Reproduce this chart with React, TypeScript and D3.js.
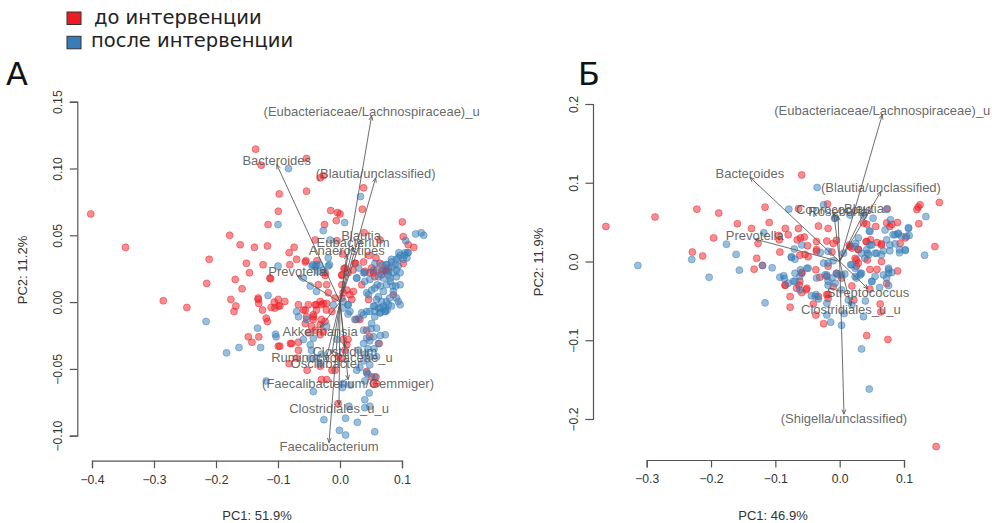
import { useEffect, useRef } from "react";
import * as d3 from "d3";

type Pt = [number, number];

const legendLabels = ["до интервенции", "после интервенции"];
const groupColors = ["#ed1c24", "#377eb8"];

// panel A: [PC1, PC2]
const beforeA: Pt[] = [
  [-0.402,0.066],[-0.346,0.041],[-0.136,0.1145],[-0.127,0.1025],[-0.098,0.081],[-0.0995,0.068],[-0.116,0.058],[-0.178,0.05],
  [-0.161,0.043],[-0.138,0.041],[-0.117,0.042],[-0.211,0.032],[-0.151,0.029],[-0.124,0.028],[-0.146,0.022],[-0.169,0.017],
  [-0.113,0.018],[-0.285,0.001],[-0.247,-0.004],[-0.215,0.014],[-0.158,0.01],[-0.176,0.002],[-0.168,-0.003],[-0.171,-0.007],
  [-0.132,0.003],[-0.132,0.002],[-0.131,-0.001],[-0.125,-0.006],[-0.111,-0.004],[-0.106,0],[-0.0995,0.002],[-0.0995,-0.003],
  [-0.119,-0.012],[-0.117,-0.0145],[-0.148,-0.026],[-0.131,-0.026],[-0.142,-0.03],[-0.0995,-0.033],[-0.054,0.1075],[-0.032,0.093],
  [-0.027,0.0945],[-0.054,0.083],[0.038,0.0855],[0.036,0.0695],[-0.015,0.0685],[-0.004,0.067],[0,0.066],[-0.006,0.061],
  [-0.025,0.058],[0.1005,0.06],[0.102,0.049],[0.11,0.043],[0.119,0.041],[0.039,0.052],[0.0645,0.0465],[-0.04,0.0465],
  [-0.005,0.046],[-0.074,0.041],[-0.082,0.037],[-0.07,0.032],[-0.055,0.031],[-0.037,0.031],[-0.081,0.028],[0.004,0.036],
  [0.047,0.035],[0.058,0.033],[0.038,0.03],[0.0645,0.029],[0.102,0.029],[0.025,0.029],[0.021,0.024],[0.0065,0.025],
  [0.003,0.02],[-0.024,0.02],[0.073,0.024],[0.054,0.022],[0.059,0.024],[0.07,0.024],[0.078,0.0255],[0.067,0.0205],
  [0.056,0.019],[0.048,0.022],[0.04,0.023],[0.024,0.029],[0.008,0.0255],[0.003,0.0205],[0.013,0.022],[0.003,0.013],
  [0.011,0.009],[0.0215,0.008],[0.016,0.0055],[0.003,0.003],[0.019,0.002],[0.046,0.002],[0.086,0.0055],[-0.024,0.022],
  [-0.0215,0.013],[-0.019,0.007],[-0.035,0.013],[-0.056,0.03],[-0.032,0.0005],[-0.027,-0.001],[-0.04,-0.002],[-0.051,-0.002],
  [-0.038,-0.006],[-0.022,-0.006],[-0.043,-0.011],[-0.056,-0.006],[-0.008,0.003],[0.075,0.023],[0.051,0.0255],[0.035,0.013],
  [0.005,0.007],[-0.105,-0.0045],[-0.097,-0.003],[-0.089,0.0005],[-0.067,-0.002],[-0.059,-0.006],[-0.054,-0.011],[-0.043,-0.0095],
  [-0.038,-0.002],[-0.03,-0.002],[-0.0215,-0.001],[-0.013,-0.007],[-0.03,-0.013],[-0.043,-0.013],[-0.046,-0.018],[-0.032,-0.017],
  [-0.024,-0.0145],[-0.056,-0.016],[-0.04,-0.021],[-0.027,-0.022],[-0.032,-0.0245],[-0.051,-0.023],[-0.067,-0.03],[-0.078,-0.031],
  [-0.097,-0.033],[-0.067,-0.036],[0.013,-0.028],[0.011,-0.032],[0.005,-0.028],[0.043,-0.021],[0.063,-0.031],[0.043,-0.052],
  [0.051,-0.056],[0.059,-0.061],[-0.013,-0.051],[-0.053,-0.051],[-0.032,-0.048],[-0.07,-0.042],[-0.008,-0.051],[0.003,-0.042],
  [0.048,-0.026],[0.032,-0.013],[0.026,-0.013],[0.008,-0.036],[-0.003,-0.041],[-0.03,-0.058],[-0.0215,-0.058],[0.054,-0.061],
  [0.058,-0.056],[-0.003,-0.076],[-0.082,-0.046],[-0.08,-0.031],[-0.112,0.0175],
];

const afterA: Pt[] = [
  [-0.1,0.058],[-0.1,0.027],[-0.116,0.005],[-0.216,-0.0145],[-0.133,-0.0195],[-0.104,-0.024],[-0.103,-0.026],[-0.163,-0.034],
  [-0.128,-0.034],[-0.183,-0.038],[-0.119,-0.059],[-0.083,0.1],[0.033,0.079],[0.0075,0.0595],[-0.027,0.0535],[-0.016,0.0465],
  [0.122,0.051],[0.131,0.052],[0.135,0.05],[0.106,0.046],[-0.019,0.033],[-0.017,0.028],[-0.045,0.027],[-0.04,0.0265],
  [-0.033,0.028],[-0.027,0.024],[0.095,0.037],[0.109,0.037],[0.104,0.035],[0.094,0.033],[0.083,0.032],[0.108,0.033],
  [0.083,0.0265],[0.075,0.028],[0.089,0.028],[0.067,0.023],[0.078,0.023],[0.097,0.022],[0.091,0.019],[0.081,0.018],
  [0.0565,0.029],[0.054,0.024],[0.04,0.022],[0.027,0.018],[0.059,0.002],[0.067,0.0005],[0.075,0.0005],[0.056,-0.003],
  [0.065,-0.0045],[0.073,-0.0045],[0.078,-0.002],[0.056,-0.007],[0.065,-0.008],[0.073,-0.007],[0.076,-0.006],[0.091,0.003],
  [0.094,0.0005],[0.097,-0.002],[0.043,0.007],[0.051,0.009],[0.046,0.0055],[0.086,0.008],[0.065,0.012],[0.056,0.0105],
  [0.075,0.013],[0.081,0.0155],[0.07,0.018],[0.078,0.0205],[0.086,0.022],[0.091,0.024],[0.097,0.013],[0.048,0.017],
  [0.04,0.0155],[0.027,0.018],[0.038,0.022],[0.062,0.019],[0.03,0.0255],[0.075,0.028],[0.083,0.03],[0.091,0.032],
  [0.097,0.035],[0.105,0.037],[0.11,0.037],[0.102,0.032],[0.094,0.027],[0.035,-0.008],[0.043,-0.007],[0.016,-0.007],
  [0.013,-0.002],[0.005,0.0005],[-0.011,-0.002],[-0.019,0.027],[-0.038,0.028],[-0.044,0.028],[-0.035,0.023],[-0.048,0.012],
  [-0.038,0.008],[-0.059,0.018],[0.07,-0.003],[0.062,-0.0045],[0.054,-0.003],[0.073,-0.007],[0.0645,-0.008],[0.056,-0.011],
  [0.048,-0.007],[0.038,-0.0095],[0.03,-0.012],[0.024,-0.013],[0.051,-0.016],[0.059,-0.0195],[0.073,-0.0245],[0.038,-0.021],
  [0.043,-0.027],[0.048,-0.029],[0.054,-0.026],[0.062,-0.031],[0.038,-0.031],[0.03,-0.036],[0.04,-0.039],[0.048,-0.041],
  [0.059,-0.041],[0.048,-0.047],[0.032,-0.049],[0.027,-0.051],[0.038,-0.044],[0.013,-0.002],[0.005,-0.0045],[0.013,-0.009],
  [-0.07,-0.007],[-0.067,-0.011],[-0.054,-0.013],[-0.059,-0.028],[-0.043,-0.027],[-0.048,-0.032],[-0.046,-0.036],[-0.0215,-0.018],
  [-0.005,-0.028],[-0.03,-0.039],[-0.032,-0.046],[0.056,-0.056],[0.043,-0.053],[0.005,-0.061],[0.04,-0.059],[-0.048,-0.042],
  [-0.038,-0.042],[-0.043,-0.067],[0.004,-0.064],[0.017,-0.062],[0.047,-0.068],[0.04,-0.073],[0.04,-0.079],[0.048,-0.078],
  [0.0145,-0.078],[-0.026,-0.088],[0.009,-0.087],[0.028,-0.09],[-0.001,-0.096],[0.009,-0.0995],[0.056,-0.097],[0.045,-0.054],
  [0.085,0.012],[0.07,0.008],[0.062,0.004],[0.08,0.003],[0.083,-0.003],[0.068,0.028],[0.06,0.013],[0.09,0.012],
  [0.05,-0.02],[0.045,-0.035],[0.055,-0.035],[0.065,-0.025],
];

const arrowNamesA = [
  "(Eubacteriaceae/Lachnospiraceae)_u", "(Blautia/unclassified)", "Bacteroides", "Blautia", "Eubacterium", "Anaerostipes", "Prevotella",
  "Akkermansia", "Ruminococcaceae_u", "Clostridium", "Oscillibacter", "(Faecalibacterium/Gemmiger)", "Clostridiales_u_u", "Faecalibacterium",
];
const arrowTipsA: Pt[] = [
  [0.051,0.1395],[0.0575,0.093],[-0.102,0.103],[0.034,0.0466],[0.021,0.0414],[0.011,0.0354],[-0.069,0.0197],
  [-0.032,-0.019],[-0.013,-0.0387],[0.008,-0.034],[-0.0226,-0.0432],[0.013,-0.058],[-0.0016,-0.0769],[-0.0177,-0.1052],
];

// panel B
const beforeB: Pt[] = [
  [-0.3635,0.0445],[-0.287,0.0565],[-0.222,0.0665],[-0.188,0.0615],[-0.116,0.069],[-0.159,0.048],[-0.137,0.042],[-0.1095,0.0495],
  [-0.0845,0.042],[-0.08,0.034],[-0.196,0.03],[-0.095,0.033],[-0.094,0.0275],[-0.127,0.023],[-0.093,0.012],[-0.229,0.012],
  [-0.213,0.007],[-0.129,0.004],[-0.133,-0.0097],[-0.12,-0.005],[-0.0845,-0.03],[-0.077,-0.0445],[-0.077,-0.058],[-0.059,0.11],
  [-0.019,0.073],[-0.064,0.067],[0.074,0.067],[0.155,0.075],[0.125,0.072],[0.122,0.069],[0.12,0.066],[0.123,0.048],
  [0.037,0.049],[0.042,0.0475],[0.056,0.0445],[0.073,0.049],[0.078,0.0445],[0.081,0.047],[0.09,0.0495],[-0.033,0.045],
  [-0.018,0.042],[-0.064,0.042],[-0.055,0.031],[-0.061,0.03],[-0.066,0.0275],[-0.02,0.026],[-0.01,0.023],[-0.005,0.027],
  [-0.036,0.0255],[-0.05,0.02],[-0.036,0.015],[-0.012,0.012],[-0.062,0.008],[-0.054,0.009],[0.015,0.021],[0.019,0.017],
  [0.029,0.0155],[0.041,0.0255],[0.048,0.0275],[0.058,0.024],[0.065,0.0225],[0.102,0.03],[0.148,0.019],[0.094,0.023],
  [0.047,-0.01],[0.058,-0.01],[0.065,0],[0.09,-0.012],[-0.059,-0.014],[-0.037,-0.0105],[0.024,0.004],[0.029,-0.002],
  [0.043,0.002],[0.026,-0.006],[-0.018,-0.006],[-0.085,-0.03],[-0.063,-0.03],[-0.059,-0.0395],[-0.052,-0.036],[-0.018,-0.042],
  [-0.018,-0.047],[-0.041,-0.054],[-0.037,-0.068],[-0.025,-0.079],[0.063,-0.054],[0.064,-0.064],[0.042,-0.094],[0.075,-0.099],
  [0.15,-0.235],[0.022,-0.049],[0.019,-0.031],[-0.031,-0.02],[-0.005,-0.015],[0.047,-0.035],[0.073,-0.028],
  [-0.059,-0.015],[-0.062,-0.025],[-0.051,-0.034],[-0.067,-0.034],[-0.02,-0.019],[-0.01,-0.032],[-0.033,-0.0445],[-0.02,-0.042],
  [0.026,0.002],[0.003,-0.021],[0.016,0.019],[0.029,0.015],[0.042,0.025],[0.065,0.021],[-0.049,0.006],[-0.036,0.013],
];

const afterB: Pt[] = [
  [-0.3137,-0.005],[-0.23,0.0025],[-0.176,0.022],[-0.161,0.009],[-0.118,0.0365],[-0.079,0.0665],[-0.075,0.005],[-0.156,-0.011],
  [-0.203,-0.02],[-0.12,-0.005],[-0.105,-0.008],[-0.093,-0.02],[-0.086,-0.0215],[-0.116,-0.0525],[-0.08,-0.0275],[-0.035,0.094],
  [-0.025,0.072],[-0.008,0.055],[0.016,0.059],[0.037,0.058],[0.052,0.055],[0.073,0.066],[0.134,0.057],[0.079,0.053],
  [0.107,0.043],[0.046,0.039],[0.0705,0.04],[0.086,0.034],[0.091,0.035],[0.096,0.032],[0.104,0.032],[0.108,0.033],
  [0.132,0.008],[0.102,0.014],[0.093,0.011],[0.093,0.015],[0.086,0.0225],[0.073,0.0275],[0.078,0.021],[0.078,0.0135],
  [0.068,0.0135],[0.029,0.03],[0.025,0.023],[0.024,0.019],[0.05,0.021],[0.055,0.0105],[0.043,0.0105],[0.039,0.004],
  [0.034,0.0105],[-0.059,0.021],[-0.03,0.0115],[-0.018,0.013],[0.006,0.0105],[-0.0705,0.016],[-0.075,0.006],[-0.0695,0.003],
  [-0.025,-0.002],[-0.018,-0.002],[-0.01,0.001],[-0.049,-0.0085],[-0.061,-0.0105],[-0.0695,-0.015],[-0.087,-0.018],[-0.023,-0.017],
  [-0.005,-0.015],[0.008,-0.016],[0.032,-0.015],[0.024,-0.019],[0.076,-0.0105],[0.081,-0.014],[0.017,-0.004],[-0.0695,-0.025],
  [-0.062,-0.036],[-0.044,-0.0435],[-0.037,-0.042],[-0.033,-0.0475],[-0.02,-0.053],[-0.02,-0.068],[-0.014,-0.077],[0.003,-0.081],
  [0.037,-0.07],[0.04,-0.05],[0.034,-0.111],[0.046,-0.162],[0.062,-0.033],[0.05,-0.0255],[0.076,-0.0305],[0.003,-0.036],
  [0.0135,-0.049],[0.019,-0.055],[0.007,-0.066],[-0.02,-0.017],[-0.018,-0.025],[-0.007,-0.0275],[0.003,-0.017],[0.032,-0.017],
  [0.055,-0.019],[0.076,-0.015],[-0.062,-0.019],[-0.072,-0.025],[-0.051,-0.0085],[-0.036,-0.021],[-0.012,-0.021],[-0.002,-0.017],
  [0.019,-0.004],[0.024,-0.0085],[0.034,-0.015],[0.026,-0.021],[0.05,-0.025],[0.068,-0.017],[0.076,-0.0085],[0.073,-0.021],
  [-0.038,-0.0445],[-0.018,-0.03],[0.047,0.021],[0.042,0.015],[0.045,0.0085],[0.0575,0.0105],[0.065,0.0085],[0.102,0.015],
  [0.091,0.036],[0.083,0.034],[0.107,0.042],[-0.007,0.055],[0.047,0.038],
];

const arrowNamesB = [
  "(Eubacteriaceae/Lachnospiraceae)_u", "(Blautia/unclassified)", "Bacteroides", "Prevotella", "Coprococcus", "Roseburia", "Blautia",
  "Streptococcus", "Clostridiales_u_u", "(Shigella/unclassified)",
];
const arrowTipsB: Pt[] = [
  [0.0663,0.1866],[0.0642,0.089],[-0.1395,0.107],[-0.132,0.0285],[-0.009,0.0607],[-0.0026,0.058],[0.0378,0.062],
  [0.044,-0.0347],[0.0174,-0.0564],[0.0067,-0.1938],
];

const ticksXA = [-0.4, -0.3, -0.2, -0.1, 0, 0.1];
const ticksYA = [-0.1, -0.05, 0, 0.05, 0.1, 0.15];
const ticksXB = [-0.3, -0.2, -0.1, 0, 0.1];
const ticksYB = [-0.2, -0.1, 0, 0.1, 0.2];

const chartFont = "'Liberation Sans', Arial, sans-serif";
const labelFont = "'DejaVu Sans', sans-serif";
const inkColor = "#555";

function drawPanel(svg: any, p: any) {
  const x = d3.scaleLinear().domain(d3.extent(p.ticksX) as any).range(p.rangeX);
  const y = d3.scaleLinear().domain(d3.extent(p.ticksY) as any).range(p.rangeY);

  const dots = svg.append("g");
  [p.before, p.after].forEach((pts: Pt[], i: number) => {
    dots.append("g")
      .selectAll("circle")
      .data(pts)
      .join("circle")
      .attr("cx", (d: Pt) => x(d[0]))
      .attr("cy", (d: Pt) => y(d[1]))
      .attr("r", 3.5)
      .attr("fill", groupColors[i])
      .attr("fill-opacity", 0.5)
      .attr("stroke", groupColors[i])
      .attr("stroke-opacity", 0.45)
      .attr("stroke-width", 1);
  });

  const arrows = svg.append("g").attr("fill", "none").attr("stroke", "#555").attr("stroke-width", 1).attr("stroke-opacity", 0.85);
  p.tips.forEach((t: Pt) => {
    const x0 = x(0), y0 = y(0), x1 = x(t[0]), y1 = y(t[1]);
    const a = Math.atan2(y1 - y0, x1 - x0);
    const head = 5;
    arrows.append("path").attr("d", d3.line()([[x0, y0], [x1, y1]]));
    arrows.append("path").attr("d", d3.line()([
      [x1 - head * Math.cos(a - 0.4), y1 - head * Math.sin(a - 0.4)],
      [x1, y1],
      [x1 - head * Math.cos(a + 0.4), y1 - head * Math.sin(a + 0.4)],
    ]));
  });

  svg.append("g")
    .selectAll("text")
    .data(p.names)
    .join("text")
    .attr("x", (_: string, i: number) => x(p.tips[i][0]))
    .attr("y", (_: string, i: number) => y(p.tips[i][1]) + (p.tips[i][1] > 0 ? -4 : 4))
    .attr("dy", "0.35em")
    .attr("text-anchor", "middle")
    .attr("font-family", chartFont)
    .attr("font-size", 13)
    .attr("fill", "#555")
    .attr("fill-opacity", 0.9)
    .text((d: string) => d);

  const axisX = svg.append("g")
    .attr("transform", `translate(0,${p.axisY})`)
    .call(d3.axisBottom(x).tickValues(p.ticksX).tickSizeOuter(0).tickSize(7.5).tickPadding(7).tickFormat(d3.format(".1f") as any));
  const axisY = svg.append("g")
    .attr("transform", `translate(${p.axisX},0)`)
    .call(d3.axisLeft(y).tickValues(p.ticksY).tickSizeOuter(0).tickSize(7.5).tickFormat(d3.format(p.yFormat) as any));

  axisY.selectAll("text")
    .attr("transform", "rotate(-90)")
    .attr("x", 0)
    .attr("y", -15)
    .attr("dy", 0)
    .attr("text-anchor", "middle");
  [axisX, axisY].forEach((ax: any) => {
    ax.attr("font-family", chartFont).attr("font-size", 12.2);
    ax.selectAll("path,line").attr("stroke", inkColor).attr("stroke-width", 1.2);
    ax.selectAll("text").attr("fill", "#333");
  });

  svg.append("text")
    .attr("x", p.titleX).attr("y", 519.5)
    .attr("text-anchor", "middle").attr("font-family", chartFont).attr("font-size", 13).attr("fill", "#333")
    .text(p.xTitle);
  svg.append("text")
    .attr("transform", `translate(${p.titleYX},${p.titleYY}) rotate(-90)`)
    .attr("text-anchor", "middle").attr("font-family", chartFont).attr("font-size", 13).attr("fill", "#333")
    .text(p.yTitle);

  svg.append("text")
    .attr("x", p.letterX).attr("y", 85)
    .attr("font-family", labelFont).attr("font-size", 32).attr("fill", "#111")
    .text(p.letter);
}

export default function App() {
  const ref = useRef<SVGSVGElement>(null);

  useEffect(() => {
    const svg = d3.select(ref.current);
    svg.selectAll("*").remove();

    const legend = svg.append("g");
    legendLabels.forEach((label, i) => {
      legend.append("rect")
        .attr("x", 67).attr("y", 12 + i * 24.3).attr("width", 14).attr("height", 12.5)
        .attr("fill", groupColors[i]).attr("stroke", "#333").attr("stroke-width", 1);
      legend.append("text")
        .attr("x", i === 0 ? 94 : 91).attr("y", 24 + i * 22.5)
        .attr("font-family", labelFont).attr("font-size", 19.5).attr("fill", "#222")
        .text(label);
    });

    drawPanel(svg, {
      before: beforeA, after: afterA, tips: arrowTipsA, names: arrowNamesA,
      ticksX: ticksXA, ticksY: ticksYA, rangeX: [92, 402], rangeY: [435.7, 101.7],
      axisX: 77.3, axisY: 460.7, yFormat: ".2f",
      xTitle: "PC1: 51.9%", yTitle: "PC2: 11.2%", titleX: 257, titleYX: 27, titleYY: 270,
      letter: "А", letterX: 6,
    });
    drawPanel(svg, {
      before: beforeB, after: afterB, tips: arrowTipsB, names: arrowNamesB,
      ticksX: ticksXB, ticksY: ticksYB, rangeX: [646.7, 904], rangeY: [419, 104],
      axisX: 593, axisY: 460, yFormat: ".1f",
      xTitle: "PC1: 46.9%", yTitle: "PC2: 11.9%", titleX: 773, titleYX: 543, titleYY: 262,
      letter: "Б", letterX: 578,
    });
  }, []);

  return <svg ref={ref} width={992} height={523} style={{ position: "absolute", left: 0, top: 0, display: "block" }} />;
}
